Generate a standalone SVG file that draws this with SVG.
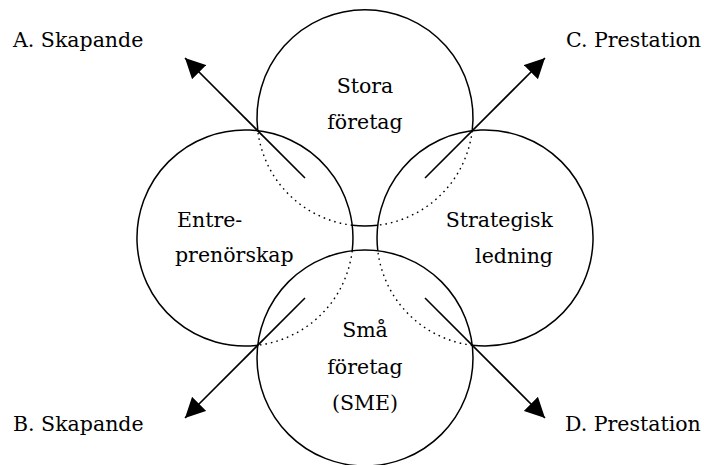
<svg xmlns="http://www.w3.org/2000/svg" width="704" height="465" viewBox="0 0 704 465">
  <style>
    .ring { fill: none; stroke: #000; stroke-width: 1.5; }
    .hidden { fill: none; stroke: #000; stroke-width: 1.4; stroke-dasharray: 1.6 4; }
    .arrow { fill: none; stroke: #000; stroke-width: 1.6; marker-end: url(#head); }
    text { font-family: "DejaVu Serif", "Liberation Serif", serif; font-size: 20.5px; fill: #000; }
    .mid { text-anchor: middle; }
    .end { text-anchor: end; }
  </style>
  <defs>
    <marker id="head" markerUnits="userSpaceOnUse" markerWidth="20" markerHeight="20" refX="20" refY="10" orient="auto">
      <path d="M0,0 L20,10 L0,20 z" fill="#000"/>
    </marker>
  </defs>

  <rect width="704" height="465" fill="#fff"/>

  <!-- Stora företag: centre (365,118), r 108 -->
  <g id="stora">
    <path class="ring" d="M257.8,130.8 A108,108 0 1 1 472.2,130.8"/>
    <path class="hidden" d="M472.2,130.8 A108,108 0 0 1 377.8,225.2"/>
    <path class="ring" d="M377.8,225.2 A108,108 0 0 1 352.2,225.2"/>
    <path class="hidden" d="M352.2,225.2 A108,108 0 0 1 257.8,130.8"/>
    <text class="mid" x="365" y="92.5">Stora</text>
    <text class="mid" x="365" y="129">företag</text>
  </g>

  <!-- Entreprenörskap: centre (245,238) -->
  <g id="entreprenorskap">
    <path class="ring" d="M257.8,345.2 A108,108 0 1 1 352.2,250.8"/>
    <path class="hidden" d="M352.2,250.8 A108,108 0 0 1 257.8,345.2"/>
    <text x="177" y="227">Entre-</text>
    <text x="175" y="262">prenörskap</text>
  </g>

  <!-- Strategisk ledning: centre (485,238) -->
  <g id="strategisk">
    <path class="ring" d="M377.8,250.8 A108,108 0 1 1 472.2,345.2"/>
    <path class="hidden" d="M472.2,345.2 A108,108 0 0 1 377.8,250.8"/>
    <text class="end" x="553" y="227">Strategisk</text>
    <text class="end" x="553" y="263">ledning</text>
  </g>

  <!-- Små företag (SME): centre (365,358) -->
  <g id="sma">
    <circle class="ring" cx="365" cy="358" r="108"/>
    <text class="mid" x="365" y="337">Små</text>
    <text class="mid" x="365" y="374">företag</text>
    <text class="mid" x="365" y="410">(SME)</text>
  </g>

  <!-- outward arrows through the circle intersections -->
  <g id="connectors">
    <line class="arrow" x1="305" y1="178" x2="185" y2="58"/>
    <line class="arrow" x1="425" y1="178" x2="545" y2="58"/>
    <line class="arrow" x1="305" y1="298" x2="185" y2="418"/>
    <line class="arrow" x1="425" y1="298" x2="545" y2="418"/>
  </g>

  <g id="labels">
    <text x="13" y="47">A. Skapande</text>
    <text class="end" x="701" y="47">C. Prestation</text>
    <text x="13" y="431">B. Skapande</text>
    <text x="565" y="431">D. Prestation</text>
  </g>
</svg>
